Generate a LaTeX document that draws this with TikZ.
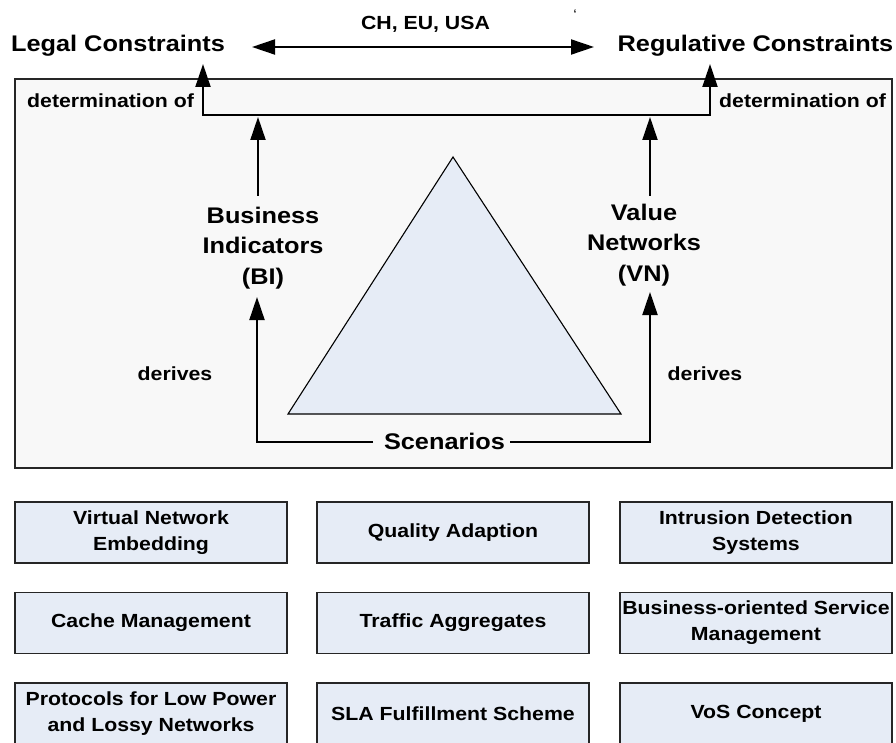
\documentclass[tikz,border=0pt]{standalone}
\usepackage{fontspec}
\setmainfont{Liberation Sans}[FakeStretch=1.12]
\usetikzlibrary{arrows.meta}

\definecolor{panelfill}{HTML}{F8F8F8}
\definecolor{topicfill}{HTML}{E6ECF6}
\definecolor{edge}{HTML}{262626}

\tikzset{
  bigtext/.style={font=\fontsize{22.6}{30.5}\selectfont\bfseries, inner sep=0pt, align=center},
  smalltext/.style={font=\fontsize{19}{26}\selectfont\bfseries, inner sep=0pt, align=center},
  flow/.style={line width=2pt, -{Triangle[length=23pt,width=15pt]}},
  twoway/.style={line width=2pt, {Triangle[length=23pt,width=15pt]}-{Triangle[length=23pt,width=15pt]}},
  topic/.style={draw=edge, line width=1.4pt, fill=topicfill, minimum width=272pt,
    minimum height=61pt, inner sep=0pt, align=center,
    font=\fontsize{19}{26}\selectfont\bfseries},
}

\begin{document}
\begin{tikzpicture}[x=1pt,y=-1pt]
  \useasboundingbox (0,0) rectangle (896,743);
  \fill[white] (0,0) rectangle (896,743);

  % constraints on top
  \node[bigtext, anchor=base] (legal) at (118,52) {Legal Constraints};
  \node[bigtext, anchor=base] (regul) at (755.5,52) {Regulative Constraints};
  \node[smalltext, anchor=base] (region) at (425.5,30) {CH, EU, USA};
  \node[font=\fontsize{14}{14}\selectfont, inner sep=0pt] (tick) at (575,15) {\symbol{96}};
  \coordinate (legalend) at (252,47);
  \coordinate (regulend) at (594,47);
  \draw[twoway] (legalend) -- (regulend);

  % scenario panel
  \draw[draw=edge, fill=panelfill, line width=1.3pt] (15,79) rectangle (892,468);

  % determination bracket
  \coordinate (legalfoot) at (203,64);
  \coordinate (regulfoot) at (710,64);
  \coordinate (brL) at (203,115);
  \coordinate (brR) at (710,115);
  \draw[twoway] (legalfoot) -- (brL) -- (brR) -- (regulfoot);
  \node[smalltext, anchor=base west] (detL) at (27,108) {determination of};
  \node[smalltext, anchor=base west] (detR) at (719,108) {determination of};

  % triangle of scenarios
  \draw[draw=black, fill=topicfill, line width=1.1pt] (453,157) -- (288,414) -- (621,414) -- cycle;

  % indicators and networks (base anchor sits on the last line)
  \node[bigtext, anchor=base] (bi) at (263,284) {Business\\Indicators\\(BI)};
  \node[bigtext, anchor=base] (vn) at (644,281) {Value\\Networks\\(VN)};
  \coordinate (biup) at (258,196);
  \coordinate (bihit) at (258,117);
  \coordinate (vnup) at (650,196);
  \coordinate (vnhit) at (650,117);
  \draw[flow] (biup) -- (bihit);
  \draw[flow] (vnup) -- (vnhit);

  % scenarios derive both
  \node[bigtext, anchor=base] (scen) at (444.5,449) {Scenarios};
  \coordinate (sL) at (373,442);
  \coordinate (sR) at (510,442);
  \coordinate (biin) at (257,297);
  \coordinate (vnin) at (650,292);
  \draw[flow] (sL) -| (biin);
  \draw[flow] (sR) -| (vnin);
  \node[smalltext, anchor=base] (derL) at (175,380) {derives};
  \node[smalltext, anchor=base] (derR) at (705,380) {derives};

  % research topics
  \node[topic] (vne) at (151,532.5) {Virtual Network\\Embedding};
  \node[topic] (qa)  at (453,532.5) {Quality Adaption};
  \node[topic] (ids) at (756,532.5) {Intrusion Detection\\Systems};
  \node[topic] (cm)  at (151,623) {Cache Management};
  \node[topic] (ta)  at (453,623) {Traffic Aggregates};
  \node[topic] (bsm) at (756,623) {Business-oriented Service\\Management};
  \node[topic] (lln) at (151,713.5) {Protocols for Low Power\\and Lossy Networks};
  \node[topic] (sla) at (453,713.5) {SLA Fulfillment Scheme};
  \node[topic] (vos) at (756,713.5) {VoS Concept};
\end{tikzpicture}
\end{document}
